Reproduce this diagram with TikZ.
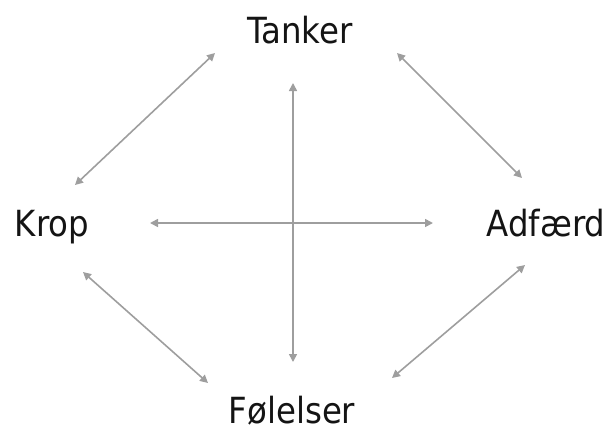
\documentclass[tikz,border=0pt]{standalone}
\usepackage{fontspec}
\setmainfont{DejaVu Sans Condensed}
\usetikzlibrary{arrows.meta}
\definecolor{linkgray}{HTML}{9E9E9E}
\definecolor{labelink}{HTML}{141414}
\tikzset{
  label/.style={anchor=base, inner sep=0pt, text=labelink,
    font=\fontsize{36}{42}\selectfont},
  link/.style={draw=linkgray, line width=1.6pt,
    {Triangle[length=8pt,width=8pt]}-{Triangle[length=8pt,width=8pt]}}
}
\begin{document}
\begin{tikzpicture}[x=1pt,y=-1pt]
  \useasboundingbox (0,0) rectangle (615,432);
  % the four labels
  \node[label] (tanker) at (300,43) {Tanker};
  \node[label] (krop) at (52,236) {Krop};
  \node[label] (adfaerd) at (546,236) {Adfærd};
  \node[label] (foelelser) at (292,423) {Følelser};
  % arrow end points
  \coordinate (tk1) at (215,53);  \coordinate (tk2) at (75,185);
  \coordinate (ta1) at (397,53);  \coordinate (ta2) at (522,178);
  \coordinate (kf1) at (83,272);  \coordinate (kf2) at (208,383);
  \coordinate (af1) at (525,265); \coordinate (af2) at (392,378);
  \coordinate (v1) at (293,83);   \coordinate (v2) at (293,362);
  \coordinate (h1) at (150,223);  \coordinate (h2) at (433,223);
  % double-headed connectors
  \draw[link] (tk1) -- (tk2);
  \draw[link] (ta1) -- (ta2);
  \draw[link] (kf1) -- (kf2);
  \draw[link] (af1) -- (af2);
  \draw[link] (v1) -- (v2);
  \draw[link] (h1) -- (h2);
\end{tikzpicture}
\end{document}
